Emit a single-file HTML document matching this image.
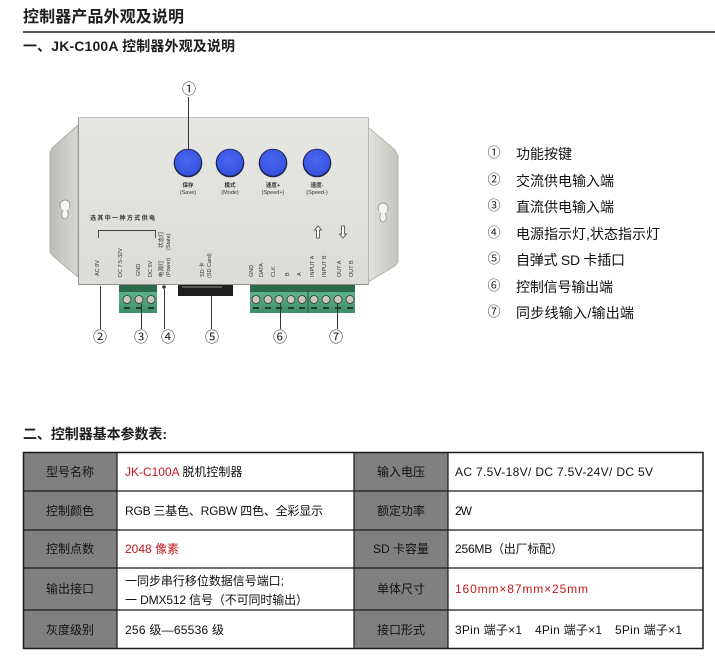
<!DOCTYPE html>
<html><head><meta charset="utf-8">
<style>
html,body{margin:0;padding:0;background:#fff;width:715px;height:659px;overflow:hidden}
svg{display:block}
text{font-family:"Liberation Sans","Noto Sans CJK SC",sans-serif}
.cj{font-family:"Noto Sans CJK SC","Liberation Sans",sans-serif}
</style></head><body>
<svg width="715" height="659" viewBox="0 0 715 659" xmlns="http://www.w3.org/2000/svg">
<defs>
  <linearGradient id="bodyG" x1="0" y1="0" x2="0" y2="1">
    <stop offset="0" stop-color="#e6e6e2"/><stop offset="1" stop-color="#dbdbd7"/>
  </linearGradient>
  <linearGradient id="flL" x1="0" y1="0" x2="1" y2="0">
    <stop offset="0" stop-color="#bcbcb7"/><stop offset="1" stop-color="#d8d8d3"/>
  </linearGradient>
  <linearGradient id="flR" x1="1" y1="0" x2="0" y2="0">
    <stop offset="0" stop-color="#c4c4bf"/><stop offset="1" stop-color="#e3e3df"/>
  </linearGradient>
  <radialGradient id="btnG" cx="0.45" cy="0.4" r="0.7">
    <stop offset="0" stop-color="#4a66f0"/><stop offset="0.75" stop-color="#3a55e2"/><stop offset="1" stop-color="#2c44c0"/>
  </radialGradient>
  <linearGradient id="grG" x1="0" y1="0" x2="0" y2="1">
    <stop offset="0" stop-color="#5cb38c"/><stop offset="1" stop-color="#3f8e6a"/>
  </linearGradient>
</defs>

<!-- Title -->
<text x="23" y="22" font-size="16" font-weight="bold" fill="#1e1e1e" class="cj" textLength="161">控制器产品外观及说明</text>
<rect x="23" y="31" width="692" height="2" fill="#555"/>
<text x="23" y="51" font-size="14" font-weight="bold" fill="#1e1e1e" textLength="212">一、JK-C100A 控制器外观及说明</text>

<!-- Device -->
<polygon points="78,125 52,148 50,153 50,252 53,256 78,277" fill="url(#flL)" stroke="#a3a39e" stroke-width="0.8"/>
<polygon points="368,127 395,150 398,156 398,262 395,266 368,282" fill="url(#flR)" stroke="#abaaa5" stroke-width="0.8"/>
<!-- keyholes -->
<ellipse cx="65" cy="205" rx="5" ry="5" fill="#f5f5f3" stroke="#85857f" stroke-width="0.7"/>
<ellipse cx="65" cy="214" rx="3.2" ry="5" fill="#f5f5f3" stroke="#85857f" stroke-width="0.7"/>
<ellipse cx="65" cy="207" rx="4.2" ry="3.5" fill="#f5f5f3"/>
<ellipse cx="383" cy="208" rx="5" ry="5" fill="#f5f5f3" stroke="#85857f" stroke-width="0.7"/>
<ellipse cx="383" cy="217" rx="3.2" ry="5" fill="#f5f5f3" stroke="#85857f" stroke-width="0.7"/>
<ellipse cx="383" cy="210" rx="4.2" ry="3.5" fill="#f5f5f3"/>

<rect x="78" y="117" width="291" height="168" fill="url(#bodyG)"/>
<line x1="78.5" y1="117" x2="78.5" y2="285" stroke="#9a9a95" stroke-width="1"/>
<line x1="368.5" y1="117" x2="368.5" y2="285" stroke="#b5b5b0" stroke-width="1"/>
<line x1="78" y1="117.5" x2="369" y2="117.5" stroke="#c4c4bf" stroke-width="1"/>
<line x1="78" y1="284.5" x2="369" y2="284.5" stroke="#8f8f8a" stroke-width="1"/>

<!-- buttons -->
<g>
  <circle cx="188" cy="163" r="14.3" fill="#1b2048"/><circle cx="188" cy="162.6" r="13.1" fill="url(#btnG)"/>
  <circle cx="230" cy="163" r="14.3" fill="#1b2048"/><circle cx="230" cy="162.6" r="13.1" fill="url(#btnG)"/>
  <circle cx="273" cy="163" r="14.3" fill="#1b2048"/><circle cx="273" cy="162.6" r="13.1" fill="url(#btnG)"/>
  <circle cx="317" cy="163" r="14.3" fill="#1b2048"/><circle cx="317" cy="162.6" r="13.1" fill="url(#btnG)"/>
</g>
<g font-size="5.5" fill="#333" text-anchor="middle" class="cj">
  <text x="188" y="187" font-weight="bold">保存</text><text x="188" y="194">(Save)</text>
  <text x="230" y="187" font-weight="bold">模式</text><text x="230" y="194">(Mode)</text>
  <text x="273" y="187" font-weight="bold">速度+</text><text x="273" y="194">(Speed+)</text>
  <text x="317" y="187" font-weight="bold">速度-</text><text x="317" y="194">(Speed-)</text>
</g>
<text x="90" y="220" font-size="6" font-weight="bold" fill="#333" class="cj" textLength="65">选其中一种方式供电</text>
<path d="M98.5,238 V230.5 H155.5 V238" fill="none" stroke="#444" stroke-width="0.9"/>
<!-- arrows -->
<path d="M318,226 L314.5,230 H316.5 V238 H319.5 V230 H321.5 Z" fill="#fafafa" stroke="#444" stroke-width="0.8"/>
<path d="M343,238 L339.5,234 H341.5 V226 H344.5 V234 H346.5 Z" fill="#fafafa" stroke="#444" stroke-width="0.8"/>
<!-- vertical labels -->
<g font-size="5.5" fill="#333" class="cj">
  <text transform="translate(99,276) rotate(-90)">AC 9V</text>
  <text transform="translate(122,277) rotate(-90)">DC  7.5-32V</text>
  <text transform="translate(140,276) rotate(-90)">GND</text>
  <text transform="translate(152,277) rotate(-90)">DC  5V</text>
  <text transform="translate(163,277) rotate(-90)">电源灯</text>
  <text transform="translate(170,277) rotate(-90)">(Power)</text>
  <text transform="translate(163,248) rotate(-90)">状态灯</text>
  <text transform="translate(170,250) rotate(-90)">(State)</text>
  <text transform="translate(204,277) rotate(-90)">SD 卡</text>
  <text transform="translate(211,278) rotate(-90)">(SD Card)</text>
  <text transform="translate(253,277) rotate(-90)">GND</text>
  <text transform="translate(263,277) rotate(-90)">DATA</text>
  <text transform="translate(275,277) rotate(-90)">CLK</text>
  <text transform="translate(289,276) rotate(-90)">B</text>
  <text transform="translate(301,276) rotate(-90)">A</text>
  <text transform="translate(314,277) rotate(-90)">INPUT  A</text>
  <text transform="translate(326,277) rotate(-90)">INPUT  B</text>
  <text transform="translate(341,277) rotate(-90)">OUT  A</text>
  <text transform="translate(353,277) rotate(-90)">OUT  B</text>
</g>
<!-- SD slot, LED -->
<rect x="178" y="285" width="55" height="11" fill="#1e1e1e"/>
<rect x="182" y="286" width="40" height="2" fill="#555"/>
<circle cx="164" cy="287" r="1.8" fill="#333"/>
<!-- terminals -->
<rect x="119" y="285" width="38" height="8" fill="#2c6a4c"/>
<rect x="119" y="292" width="38" height="21" fill="url(#grG)"/>
<g fill="#c8c8c0" stroke="#3a3a30" stroke-width="0.8">
  <circle cx="127" cy="299.5" r="4"/><circle cx="139" cy="299.5" r="4"/><circle cx="151" cy="299.5" r="4"/>
</g>
<g fill="#1f3d2e"><rect x="124" y="307" width="6" height="2"/><rect x="136" y="307" width="6" height="2"/><rect x="148" y="307" width="6" height="2"/></g>

<rect x="250" y="285" width="58" height="8" fill="#2c6a4c"/>
<rect x="250" y="292" width="58" height="21" fill="url(#grG)"/>
<rect x="308" y="285" width="47" height="8" fill="#2c6a4c"/>
<rect x="308" y="292" width="47" height="21" fill="url(#grG)"/>
<line x1="308" y1="290" x2="308" y2="313" stroke="#244f3a" stroke-width="1"/>
<g fill="#c8c8c0" stroke="#3a3a30" stroke-width="0.8">
  <circle cx="256" cy="299.5" r="4"/><circle cx="268" cy="299.5" r="4"/><circle cx="279" cy="299.5" r="4"/><circle cx="291" cy="299.5" r="4"/><circle cx="302" cy="299.5" r="4"/>
  <circle cx="314" cy="299.5" r="4"/><circle cx="326" cy="299.5" r="4"/><circle cx="338" cy="299.5" r="4"/><circle cx="350" cy="299.5" r="4"/>
</g>
<g fill="#1f3d2e">
  <rect x="253" y="307" width="6" height="2"/><rect x="265" y="307" width="6" height="2"/><rect x="276" y="307" width="6" height="2"/><rect x="288" y="307" width="6" height="2"/><rect x="299" y="307" width="6" height="2"/>
  <rect x="311" y="307" width="6" height="2"/><rect x="323" y="307" width="6" height="2"/><rect x="335" y="307" width="6" height="2"/><rect x="347" y="307" width="6" height="2"/>
</g>

<!-- callout lines -->
<g stroke="#333" stroke-width="1">
  <line x1="188.5" y1="97" x2="188.5" y2="149"/>
  <line x1="100.5" y1="286" x2="100.5" y2="329"/>
  <line x1="141.5" y1="304" x2="141.5" y2="329"/>
  <line x1="164.5" y1="289" x2="164.5" y2="329"/>
  <line x1="211.5" y1="296" x2="211.5" y2="329"/>
  <line x1="280.5" y1="303" x2="280.5" y2="329"/>
  <line x1="337.5" y1="303" x2="337.5" y2="329"/>
</g>
<g font-size="14" fill="#222" text-anchor="middle" class="cj">
  <text x="189" y="94">①</text>
  <text x="100" y="342">②</text>
  <text x="141" y="342">③</text>
  <text x="168" y="342">④</text>
  <text x="212" y="342">⑤</text>
  <text x="280" y="342">⑥</text>
  <text x="336" y="342">⑦</text>
</g>

<!-- Legend -->
<g font-size="13" fill="#222" text-anchor="middle" class="cj">
  <text x="494" y="157">①</text>
  <text x="494" y="184">②</text>
  <text x="494" y="210">③</text>
  <text x="494" y="237">④</text>
  <text x="494" y="263">⑤</text>
  <text x="494" y="290">⑥</text>
  <text x="494" y="316">⑦</text>
</g>
<g font-size="14" fill="#111">
  <text x="516" y="159" textLength="56">功能按键</text>
  <text x="516" y="186" textLength="98">交流供电输入端</text>
  <text x="516" y="212" textLength="98">直流供电输入端</text>
  <text x="516" y="239" textLength="144">电源指示灯,状态指示灯</text>
  <text x="516" y="265" textLength="109">自弹式 SD 卡插口</text>
  <text x="516" y="292" textLength="97">控制信号输出端</text>
  <text x="516" y="318" textLength="118">同步线输入/输出端</text>
</g>

<!-- Section 2 -->
<text x="23" y="439" font-size="14" font-weight="bold" fill="#1e1e1e" textLength="144">二、控制器基本参数表:</text>

<!-- Table -->
<rect x="23" y="452" width="94" height="197" fill="#808080"/>
<rect x="354" y="452" width="94" height="197" fill="#808080"/>
<g stroke="#1a1a1a" stroke-width="1.2">
  <line x1="23" y1="491" x2="703" y2="491"/>
  <line x1="23" y1="530" x2="703" y2="530"/>
  <line x1="23" y1="568" x2="703" y2="568"/>
  <line x1="23" y1="610" x2="703" y2="610"/>
  <line x1="117" y1="452" x2="117" y2="649"/>
  <line x1="354" y1="452" x2="354" y2="649"/>
  <line x1="448" y1="452" x2="448" y2="649"/>
</g>
<rect x="23.5" y="452.5" width="679.5" height="196" fill="none" stroke="#1a1a1a" stroke-width="1.5"/>

<g font-size="12" fill="#111" text-anchor="middle">
  <text x="70" y="476">型号名称</text>
  <text x="70" y="515">控制颜色</text>
  <text x="70" y="553">控制点数</text>
  <text x="70" y="593">输出接口</text>
  <text x="70" y="634">灰度级别</text>
  <text x="401" y="476">输入电压</text>
  <text x="401" y="515">额定功率</text>
  <text x="401" y="553">SD 卡容量</text>
  <text x="401" y="593">单体尺寸</text>
  <text x="401" y="634">接口形式</text>
</g>
<g font-size="12" fill="#111">
  <text x="125" y="476"><tspan fill="#c0181e" textLength="54">JK-C100A</tspan><tspan> 脱机控制器</tspan></text>
  <text x="125" y="515" textLength="198">RGB 三基色、RGBW 四色、全彩显示</text>
  <text x="125" y="553" fill="#c0181e" textLength="54">2048 像素</text>
  <text x="125" y="585" textLength="159">一同步串行移位数据信号端口;</text>
  <text x="125" y="604" textLength="183">一 DMX512 信号（不可同时输出）</text>
  <text x="125" y="634" textLength="99">256 级—65536 级</text>
  <text x="455" y="476" textLength="198">AC 7.5V-18V/ DC 7.5V-24V/ DC 5V</text>
  <text x="455" y="515" textLength="17">2W</text>
  <text x="455" y="553" textLength="108">256MB（出厂标配）</text>
  <text x="455" y="593" fill="#c0181e" textLength="133">160mm×87mm×25mm</text>
  <text x="455" y="634" textLength="67">3Pin 端子×1</text>
  <text x="535" y="634" textLength="67">4Pin 端子×1</text>
  <text x="615" y="634" textLength="67">5Pin 端子×1</text>
</g>
</svg>
</body></html>
